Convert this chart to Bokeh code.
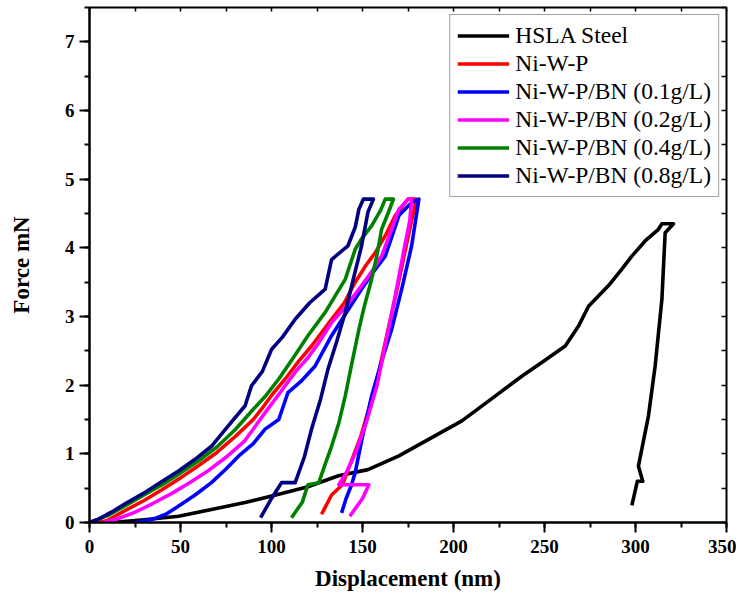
from bokeh.plotting import figure
from bokeh.models import Range1d, LinearAxis, SingleIntervalTicker, CustomJSTickFormatter
from bokeh.embed import file_html
from bokeh.resources import INLINE

# ---- data (displacement nm, force mN) ----
hsla_x = [12, 30, 49, 67, 85.5, 104, 120, 136.8, 153, 170, 186.3, 204.6, 222.9, 237.5, 248.5,
          261.4, 268.7, 274.2, 285.2, 292.5, 298, 305.3, 312.6, 314.5, 320.9,
          316.3, 314.5, 310.8, 307.1, 301.6, 304, 301, 298]
hsla_y = [0, 0.04, 0.09, 0.19, 0.29, 0.41, 0.52, 0.68, 0.77, 0.97, 1.21, 1.48, 1.84, 2.13, 2.33,
          2.57, 2.86, 3.15, 3.45, 3.69, 3.88, 4.10, 4.27, 4.35, 4.35,
          4.22, 3.25, 2.28, 1.55, 0.82, 0.6, 0.6, 0.25]

niwp_x = [5, 10, 20, 30, 40, 50, 60, 70, 80, 90, 94.5, 100, 107.5, 115, 122, 133, 140, 146, 152,
          157, 163, 168, 175, 179.7,
          177, 173, 169, 164, 159, 154, 149, 144, 139, 133, 127.5]
niwp_y = [0, 0.03, 0.18, 0.32, 0.48, 0.65, 0.83, 1.02, 1.25, 1.5, 1.65, 1.85, 2.09, 2.35, 2.57, 2.96,
          3.2, 3.5, 3.75, 3.93, 4.2, 4.47, 4.71, 4.71,
          4.4, 3.9, 3.4, 2.8, 2.2, 1.7, 1.25, 0.9, 0.55, 0.4, 0.12]

bn01_x = [25, 35, 42, 49, 58, 67, 75, 82, 90, 96.5, 104, 109, 116, 124, 133, 141, 149.5, 156,
          162.5, 166, 170, 177, 181,
          177, 172, 166, 160, 155, 150, 146, 144, 141, 138.5]
bn01_y = [0, 0.05, 0.12, 0.24, 0.4, 0.58, 0.78, 0.97, 1.15, 1.36, 1.5, 1.89, 2.05, 2.28, 2.72,
          3.05, 3.4, 3.65, 3.88, 4.15, 4.47, 4.66, 4.71,
          4.03, 3.45, 2.81, 2.3, 1.84, 1.25, 0.73, 0.55, 0.35, 0.14]

bn02_x = [8, 15, 25, 35, 45, 55, 65, 75, 85, 96.5, 105, 113, 120, 126, 133, 141, 149.5, 155,
          160.5, 165, 170, 175, 177,
          176, 173, 168, 163, 158, 152, 146, 141, 137, 153.5, 150, 143]
bn02_y = [0, 0.05, 0.15, 0.28, 0.42, 0.58, 0.75, 0.95, 1.18, 1.6, 1.9, 2.19, 2.4, 2.62, 2.91,
          3.15, 3.45, 3.65, 3.88, 4.2, 4.56, 4.71, 4.71,
          4.4, 4.0, 3.3, 2.65, 2.0, 1.45, 1.0, 0.72, 0.55, 0.55, 0.35, 0.09]

bn04_x = [0, 10, 20, 30, 40, 50, 60, 70, 80, 90, 97, 104, 112, 120, 129.5, 135, 140.5, 146, 150,
          155, 160, 162.5, 167,
          164, 160.5, 158, 155, 151, 148, 144, 140.5, 137, 133, 129.5, 126, 120, 117, 111]
bn04_y = [0, 0.1, 0.25, 0.4, 0.55, 0.72, 0.9, 1.1, 1.35, 1.65, 1.85, 2.09, 2.4, 2.72, 3.06, 3.3,
          3.54, 3.98, 4.15, 4.32, 4.55, 4.71, 4.71,
          4.5, 4.27, 3.9, 3.54, 3.15, 2.81, 2.3, 1.84, 1.45, 1.11, 0.85, 0.58, 0.55, 0.3, 0.07]

bn08_x = [0, 5, 12, 20, 30.6, 40, 48.9, 58, 67, 76, 85.5, 89, 95, 100, 106, 113, 121, 129.5, 133,
          142, 146, 148, 150.5, 156,
          153, 149.5, 145, 140.5, 136, 131, 127, 122, 118, 113, 105.5, 100, 94]
bn08_y = [0, 0.05, 0.15, 0.28, 0.44, 0.6, 0.75, 0.92, 1.11, 1.4, 1.7, 1.99, 2.2, 2.52, 2.7, 2.96,
          3.2, 3.40, 3.83, 4.03, 4.3, 4.56, 4.71, 4.71,
          4.52, 4.03, 3.55, 3.06, 2.65, 2.23, 1.8, 1.36, 0.95, 0.58, 0.58, 0.35, 0.07]

series = [
    ("HSLA Steel", hsla_x, hsla_y, "#000000"),
    ("Ni-W-P", niwp_x, niwp_y, "#FF0000"),
    ("Ni-W-P/BN (0.1g/L)", bn01_x, bn01_y, "#0000FF"),
    ("Ni-W-P/BN (0.2g/L)", bn02_x, bn02_y, "#FF00FF"),
    ("Ni-W-P/BN (0.4g/L)", bn04_x, bn04_y, "#008000"),
    ("Ni-W-P/BN (0.8g/L)", bn08_x, bn08_y, "#000080"),
]

x_ticks_interval = 50
y_ticks_interval = 1

FONT = "Liberation Serif"

p = figure(output_backend="svg", toolbar_location=None,
           frame_width=637, frame_height=515,
           min_border_left=89, min_border_right=10, min_border_top=7, min_border_bottom=70,
           x_range=Range1d(0, 350), y_range=Range1d(0, 7.5),
           x_axis_label="Displacement (nm)", y_axis_label="Force mN")

for name, xs, ys, col in series:
    p.line(xs, ys, line_color=col, line_width=3.6, line_join="round", legend_label=name)

p.xgrid.visible = False
p.ygrid.visible = False
p.outline_line_color = "black"
p.outline_line_width = 2
p.background_fill_color = "white"
p.border_fill_color = "white"

p.xaxis.ticker = SingleIntervalTicker(interval=x_ticks_interval, num_minor_ticks=2)
p.yaxis.ticker = SingleIntervalTicker(interval=y_ticks_interval, num_minor_ticks=2)

for ax in (p.xaxis[0], p.yaxis[0]):
    ax.axis_line_width = 2
    ax.major_tick_line_width = 2
    ax.minor_tick_line_width = 2
    ax.major_tick_out = 10
    ax.major_tick_in = 0
    ax.minor_tick_out = 5
    ax.minor_tick_in = 0
    ax.major_label_text_font = FONT
    ax.major_label_text_font_style = "bold"
    ax.major_label_text_font_size = "19px"
    ax.major_label_text_color = "black"
    ax.axis_label_text_font = FONT
    ax.axis_label_text_font_style = "bold"
    ax.axis_label_text_font_size = "23px"
    ax.axis_label_text_color = "black"

p.xaxis.major_label_standoff = 7
p.xaxis.axis_label_standoff = 10
p.yaxis.major_label_standoff = 5
p.yaxis.axis_label_standoff = 28

blank = CustomJSTickFormatter(code="return '';")
right_ax = LinearAxis(ticker=SingleIntervalTicker(interval=0.5, num_minor_ticks=0),
                      formatter=blank, axis_line_color=None,
                      major_tick_in=5, major_tick_out=0, major_tick_line_width=1.5,
                      minor_tick_line_color=None, major_label_standoff=0)
top_ax = LinearAxis(ticker=SingleIntervalTicker(interval=25, num_minor_ticks=0),
                    formatter=blank, axis_line_color=None,
                    major_tick_in=4, major_tick_out=0, major_tick_line_width=1.5,
                    minor_tick_line_color=None, major_label_standoff=0)
p.add_layout(right_ax, "right")
p.add_layout(top_ax, "above")

lg = p.legend[0]
lg.location = "top_right"
lg.margin = 7
lg.padding = 7
lg.spacing = 1
lg.glyph_width = 52
lg.glyph_height = 27
lg.label_height = 27
lg.label_standoff = 6
lg.label_text_font = FONT
lg.label_text_font_size = "23.5px"
lg.label_text_color = "black"
lg.border_line_color = "#444444"
lg.border_line_width = 1.5
lg.background_fill_color = "white"
lg.background_fill_alpha = 1

open("out.html", "w").write(file_html(p, INLINE))
